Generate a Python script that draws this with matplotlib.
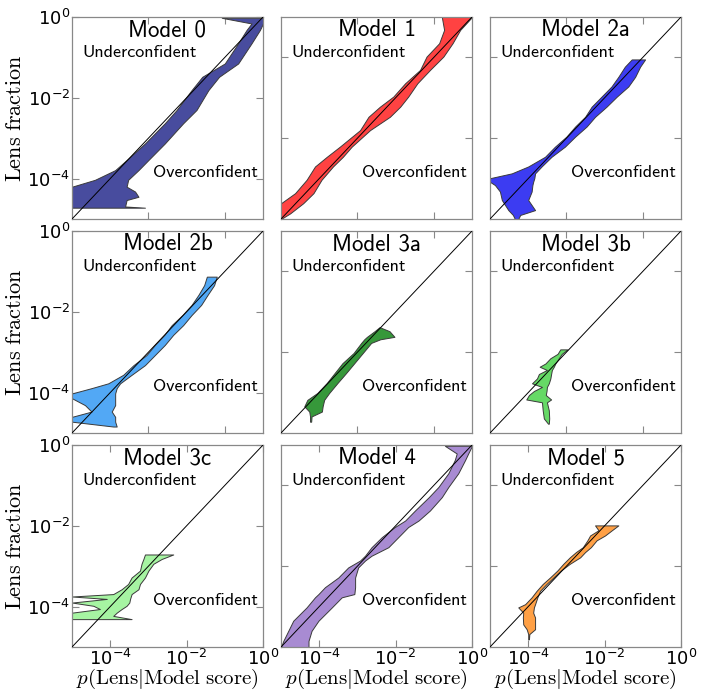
import numpy as np
import matplotlib
matplotlib.use("Agg")
import matplotlib.pyplot as plt

plt.rcParams['mathtext.fontset'] = 'cm'
plt.rcParams['axes.formatter.use_mathtext'] = True

# all values are log10; ly = lens fraction, lo/hi = edges of the band in p(Lens|score)
m0_ly = [-0.02, -0.16, -0.32, -0.65, -1.15, -1.48, -1.81, -2.30, -2.63, -3.13, -3.54, -3.79, -4.03, -4.20, -4.32, -4.45, -4.53, -4.69, -4.72]
m0_lo = [-1.08, -0.30, -0.43, -0.65, -1.00, -1.59, -1.87, -2.26, -2.57, -3.09, -3.57, -3.87, -4.40, -5.0, -5.0, -5.0, -5.0, -5.0, -5.0]
m0_hi = [0.0, 0.0, -0.08, -0.30, -0.65, -1.15, -1.43, -1.74, -2.09, -2.57, -3.00, -3.26, -3.53, -3.57, -3.35, -3.26, -3.57, -3.61, -3.09]

m1_ly = [0.0, -0.32, -0.65, -0.98, -1.31, -1.64, -1.97, -2.22, -2.47, -2.80, -3.21, -3.46, -3.70, -4.03, -4.36, -4.61, -4.86, -5.0]
m1_lo = [-0.79, -0.73, -0.86, -1.19, -1.36, -1.75, -2.06, -2.41, -2.71, -2.93, -3.46, -3.80, -4.11, -4.33, -4.63, -5.0, -5.0, -5.0]
m1_hi = [0.0, -0.31, -0.51, -0.75, -1.10, -1.43, -1.67, -1.88, -2.15, -2.67, -3.15, -3.38, -3.64, -3.94, -4.15, -4.42, -4.76, -5.0]

m2a_ly = [-1.05, -1.23, -1.48, -1.72, -1.97, -2.22, -2.47, -2.71, -2.96, -3.21, -3.46, -3.70, -3.87, -3.99, -4.08, -4.16, -4.32, -4.53, -4.78, -4.90, -5.0]
m2a_lo = [-1.29, -1.47, -1.64, -1.82, -2.08, -2.34, -2.51, -2.77, -3.00, -3.30, -3.56, -4.00, -4.43, -5.0, -5.0, -4.87, -4.74, -4.69, -4.52, -4.40, -4.35]
m2a_hi = [-0.94, -1.07, -1.20, -1.38, -1.68, -1.95, -2.25, -2.47, -2.77, -3.04, -3.39, -3.65, -3.82, -3.84, -3.87, -3.89, -3.91, -4.00, -3.82, -4.21, -4.26]

m2b_ly = [-1.13, -1.34, -1.58, -1.83, -2.08, -2.33, -2.57, -2.82, -3.07, -3.32, -3.56, -3.77, -3.89, -4.02, -4.14, -4.31, -4.47, -4.60, -4.72, -4.84]
m2b_lo = [-1.47, -1.54, -1.69, -1.87, -2.11, -2.39, -2.58, -2.83, -3.05, -3.39, -3.66, -4.05, -4.49, -5.0, -5.0, -4.66, -4.49, -5.0, -5.0, -3.92]
m2b_hi = [-1.21, -1.28, -1.45, -1.62, -1.87, -2.09, -2.35, -2.57, -2.83, -3.09, -3.44, -3.74, -3.83, -3.87, -3.87, -3.87, -3.96, -3.87, -3.87, -3.83]

m3a_ly = [-2.38, -2.48, -2.62, -2.68, -2.77, -3.02, -3.27, -3.52, -3.76, -4.01, -4.18, -4.34, -4.47, -4.59, -4.72]
m3a_lo = [-2.42, -2.55, -2.75, -2.82, -2.90, -3.10, -3.39, -3.60, -3.80, -4.05, -4.31, -4.39, -4.26, -4.24, -4.24]
m3a_hi = [-2.42, -2.16, -2.03, -2.40, -2.64, -2.86, -3.08, -3.30, -3.52, -3.74, -3.87, -3.91, -3.93, -4.20, -4.21]

m3b_ly = [-2.93, -3.04, -3.15, -3.28, -3.36, -3.44, -3.54, -3.65, -3.77, -3.86, -3.96, -4.06, -4.17, -4.24, -4.44, -4.64, -4.77]
m3b_lo = [-3.16, -3.23, -3.42, -3.55, -3.70, -3.51, -3.72, -3.77, -3.90, -3.64, -3.85, -3.98, -4.05, -3.64, -3.62, -3.59, -3.48]
m3b_hi = [-2.97, -3.12, -3.20, -3.29, -3.33, -3.38, -3.40, -3.42, -3.46, -3.51, -3.52, -3.54, -3.40, -3.51, -3.46, -3.45, -3.46]

m3c_ly = [-2.71, -2.82, -2.94, -3.11, -3.28, -3.44, -3.57, -3.69, -3.75, -3.81, -3.90, -3.98, -4.06, -4.15, -4.23, -4.31]
m3c_lo = [-3.09, -3.13, -3.18, -3.22, -3.44, -3.53, -3.70, -3.92, -5.0, -4.09, -5.0, -4.44, -4.27, -5.0, -5.0, -5.0]
m3c_hi = [-2.35, -2.65, -2.87, -3.00, -3.09, -3.22, -3.26, -3.44, -3.46, -3.48, -3.50, -3.57, -3.70, -3.83, -3.92, -3.44]

m4_ly = [-0.02, -0.21, -0.37, -0.70, -1.04, -1.29, -1.62, -1.87, -2.03, -2.28, -2.53, -2.74, -2.86, -3.03, -3.28, -3.52, -3.69, -3.77, -4.02, -4.35, -4.60, -4.85, -5.0]
m4_lo = [-0.71, -0.40, -0.45, -0.62, -0.88, -1.13, -1.49, -1.75, -2.02, -2.36, -2.63, -2.80, -2.93, -3.24, -3.50, -3.85, -4.02, -4.11, -4.33, -4.68, -4.81, -4.94, -5.0]
m4_hi = [0.0, -0.10, -0.18, -0.36, -0.62, -0.79, -1.10, -1.40, -1.67, -1.93, -2.19, -2.63, -2.80, -2.98, -3.06, -3.06, -3.08, -3.41, -3.67, -4.02, -4.20, -4.28, -4.28]

m5_ly = [-1.99, -2.11, -2.24, -2.36, -2.53, -2.65, -2.78, -2.94, -3.11, -3.28, -3.44, -3.61, -3.77, -3.94, -4.02, -4.15, -4.27, -4.44, -4.56, -4.68, -4.81]
m5_lo = [-2.25, -2.16, -2.38, -2.45, -2.57, -2.75, -2.91, -3.08, -3.24, -3.43, -3.62, -3.78, -3.91, -4.08, -4.26, -4.13, -4.14, -4.13, -4.04, -4.00, -4.00]
m5_hi = [-1.64, -1.81, -1.99, -2.21, -2.36, -2.51, -2.64, -2.91, -3.15, -3.34, -3.52, -3.69, -3.76, -3.82, -3.85, -3.87, -3.82, -3.82, -3.82, -3.97, -3.98]

names = ["Model 0", "Model 1", "Model 2a", "Model 2b", "Model 3a", "Model 3b", "Model 3c", "Model 4", "Model 5"]
colors = ["#484c9e", "#ff4242", "#3c3cf2", "#52a8f5", "#36983a", "#66d966", "#a6f4a2", "#a88bd2", "#ffa045"]
bands = [(m0_ly, m0_lo, m0_hi), (m1_ly, m1_lo, m1_hi), (m2a_ly, m2a_lo, m2a_hi),
         (m2b_ly, m2b_lo, m2b_hi), (m3a_ly, m3a_lo, m3a_hi), (m3b_ly, m3b_lo, m3b_hi),
         (m3c_ly, m3c_lo, m3c_hi), (m4_ly, m4_lo, m4_hi), (m5_ly, m5_lo, m5_hi)]

fig = plt.figure(figsize=(7.05, 6.93), dpi=100)
lefts = [72, 281, 490]
tops = [17, 231, 445]
W, H = 191, 202

for i in range(9):
    r, c = divmod(i, 3)
    ax = fig.add_axes([lefts[c] / 705, 1 - (tops[r] + H) / 693, W / 705, H / 693])
    ly, lo, hi = bands[i]
    ax.fill_betweenx(10 ** np.array(ly), 10 ** np.array(lo), 10 ** np.array(hi),
                     facecolor=colors[i], edgecolor="#3a3a3a", linewidth=0.7, zorder=2)
    ax.plot([1e-5, 1], [1e-5, 1], color="black", lw=0.7, zorder=3)
    ax.set_xscale("log")
    ax.set_yscale("log")
    ax.set_xlim(1e-5, 1)
    ax.set_ylim(1e-5, 1)
    ax.minorticks_off()

    if c == 0:
        ax.set_yticks([1e-4, 1e-2, 1e0])
        ax.set_ylabel(r"$\mathrm{Lens\ fraction}$", fontsize=16)
        ax.yaxis.set_label_coords(-0.245, 0.5)
    else:
        ax.set_yticks([1e-3, 1e-1])
        ax.set_yticklabels([])
    if r == 2:
        ax.set_xticks([1e-4, 1e-2, 1e0])
        ax.set_xlabel(r"$p(\mathrm{Lens}|\mathrm{Model\ score})$", fontsize=15)
        ax.xaxis.set_label_coords(0.5, -0.1)
    else:
        ax.set_xticks([1e-3, 1e-1])
        ax.set_xticklabels([])

    ax.tick_params(which="both", direction="in", top=True, right=True, length=5,
                   width=0.8, color="#888888", labelsize=13, pad=1.5)
    for s in ax.spines.values():
        s.set_color("#888888")
        s.set_linewidth(0.9)

    ax.text(0.5, 0.935, names[i], transform=ax.transAxes, ha="center", va="center",
            fontsize=16.5, family="cmss10")
    ax.text(0.055, 0.825, "Underconfident", transform=ax.transAxes, ha="left", va="center",
            fontsize=13, family="cmss10")
    ax.text(0.975, 0.23, "Overconfident", transform=ax.transAxes, ha="right", va="center",
            fontsize=13, family="cmss10")

fig.savefig("out.png", dpi=100)
